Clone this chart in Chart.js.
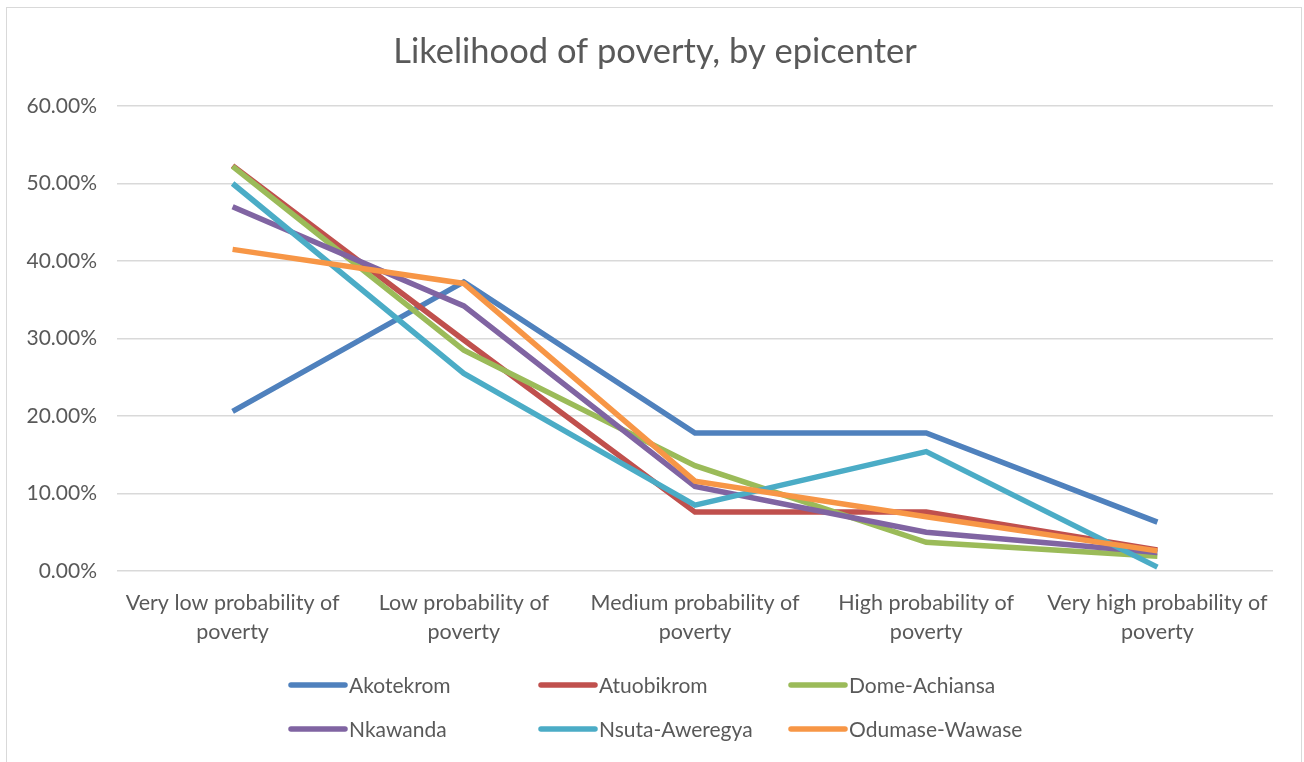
<!DOCTYPE html>
<html>
<head>
<meta charset="utf-8">
<title>Likelihood of poverty, by epicenter</title>
<script src="https://cdn.jsdelivr.net/npm/chart.js@4.4.0/dist/chart.umd.min.js"></script>
<style>
    html, body { margin: 0; padding: 0; background: #ffffff; }
    #wrap { position: relative; width: 1304px; height: 762px; }
</style>
</head>
<body>
<div id="wrap"><canvas id="chartPobreza" width="1304" height="762"></canvas></div>
<script>
// Categorias (eje X)
const categories = [
    ['Very low probability of', 'poverty'],
    ['Low probability of', 'poverty'],
    ['Medium probability of', 'poverty'],
    ['High probability of', 'poverty'],
    ['Very high probability of', 'poverty'],
];

// Series (% por epicentro)
const akotekrom     = [20.6, 37.3, 17.8, 17.8, 6.3];
const atuobikrom    = [52.3, 29.8, 7.6, 7.6, 2.7];
const domeAchiansa  = [52.2, 28.5, 13.6, 3.7, 1.9];
const nkawanda      = [47.0, 34.2, 10.9, 5.0, 2.4];
const nsutaAweregya = [50.0, 25.5, 8.5, 15.4, 0.5];
const odumaseWawase = [41.5, 37.1, 11.6, 7.0, 2.6];

const seriesNames = ['Akotekrom', 'Atuobikrom', 'Dome-Achiansa', 'Nkawanda', 'Nsuta-Aweregya', 'Odumase-Wawase'];
const seriesValues = [akotekrom, atuobikrom, domeAchiansa, nkawanda, nsutaAweregya, odumaseWawase];
const seriesColors = ['#4F81BD', '#C0504D', '#9BBB59', '#8064A2', '#4BACC6', '#F79646'];

// Eje Y
const yTicks = [0, 10, 20, 30, 40, 50, 60];

const TITLE = 'Likelihood of poverty, by epicenter';
const FONT = 'Lato, "Open Sans", sans-serif';
const GRAY = '#595959';

/**
 * Titulo, leyenda en rejilla de 3 columnas y marco exterior
 */
const gridLegend = {
    id: 'gridLegend',
    afterDraw: function(chart) {
        const ctx = chart.ctx;
        ctx.save();
        // marco
        ctx.strokeStyle = '#d9d9d9';
        ctx.lineWidth = 1;
        ctx.strokeRect(6.5, 7.5, 1295, 800);

        // titulo
        ctx.fillStyle = GRAY;
        ctx.font = '34.5px ' + FONT;
        ctx.textAlign = 'center';
        ctx.textBaseline = 'middle';
        ctx.fillText(TITLE, 655, 52);

        chart.data.datasets.forEach((ds, i) => {
            const col = i % 3;
            const row = Math.floor(i / 3);
            const x0 = 291 + col * 250;
            const y = 685 + row * 44;
            ctx.strokeStyle = ds.borderColor;
            ctx.lineWidth = 5.5;
            ctx.lineCap = 'round';
            ctx.beginPath();
            ctx.moveTo(x0, y);
            ctx.lineTo(x0 + 54, y);
            ctx.stroke();
            ctx.fillStyle = GRAY;
            ctx.font = '21px ' + FONT;
            ctx.textBaseline = 'middle';
            ctx.textAlign = 'left';
            ctx.fillText(ds.label, x0 + 58, y + 1);
        });
        ctx.restore();
    },
};

const canvas = document.getElementById('chartPobreza');
new Chart(canvas, {
    type: 'line',
    data: {
        labels: categories,
        datasets: seriesNames.map((name, i) => ({
            label: name,
            data: seriesValues[i],
            borderColor: seriesColors[i],
            backgroundColor: seriesColors[i],
            borderWidth: 5.5,
            pointRadius: 0,
            tension: 0,
            fill: false,
            order: seriesNames.length - i,
        })),
    },
    options: {
        responsive: false,
        animation: false,
        layout: {
            padding: { top: 106, right: 31, bottom: 111, left: 0 },
        },
        plugins: {
            legend: { display: false },
            tooltip: { enabled: false },
            title: { display: false },
        },
        scales: {
            x: {
                offset: true,
                afterFit: function(scale) {
                    scale.height = 80;
                },
                grid: { display: false, drawTicks: false },
                border: { display: false },
                ticks: {
                    color: GRAY,
                    padding: 17,
                    maxRotation: 0,
                    autoSkip: false,
                    font: { family: FONT, size: 21.5, lineHeight: 1.37 },
                },
            },
            y: {
                min: 0,
                max: 60,
                afterBuildTicks: function(scale) {
                    scale.ticks = yTicks.map(v => ({ value: v }));
                },
                afterFit: function(scale) {
                    scale.width = 117;
                },
                grid: { color: '#d9d9d9', lineWidth: 1.5, drawTicks: false },
                border: { display: false },
                ticks: {
                    color: GRAY,
                    padding: 20,
                    font: { family: FONT, size: 21 },
                    callback: v => v.toFixed(2) + '%',
                },
            },
        },
    },
    plugins: [gridLegend],
});
</script>
</body>
</html>
